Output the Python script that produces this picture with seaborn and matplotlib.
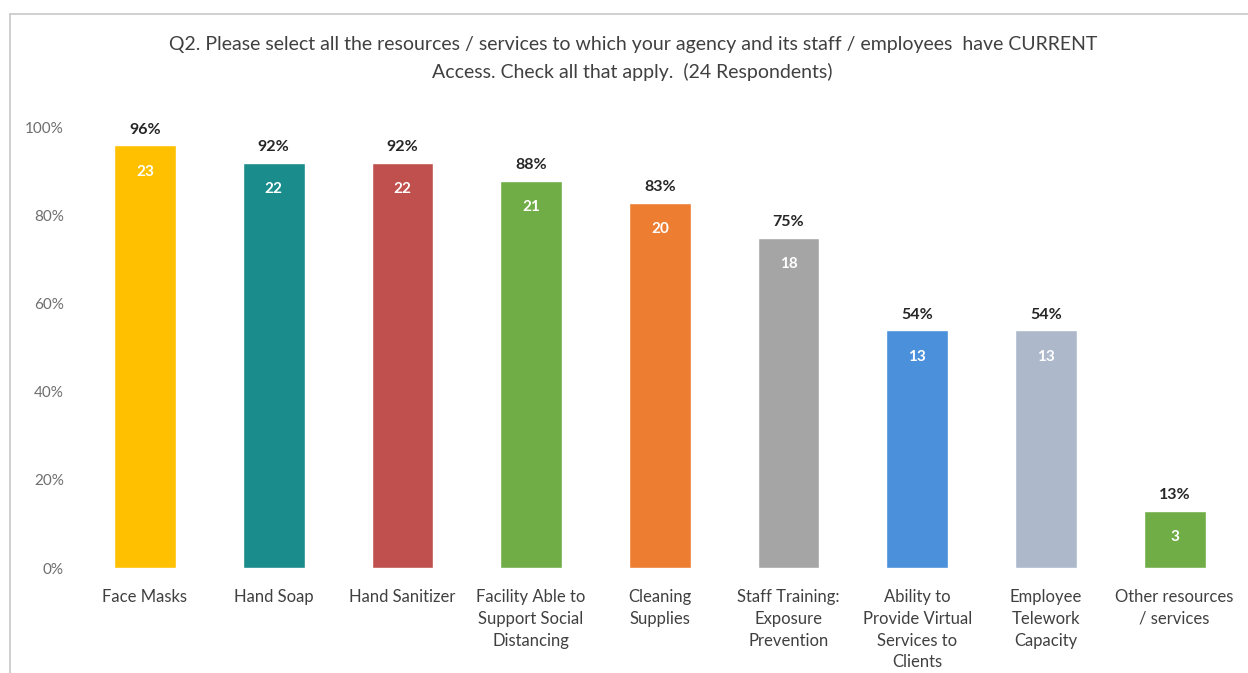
import matplotlib
matplotlib.use("Agg")
import matplotlib.pyplot as plt
import seaborn as sns
import pandas as pd
from matplotlib.lines import Line2D

categories = [
    "Face Masks", "Hand Soap", "Hand Sanitizer",
    "Facility Able to\nSupport Social\nDistancing",
    "Cleaning\nSupplies", "Staff Training:\nExposure\nPrevention",
    "Ability to\nProvide Virtual\nServices to\nClients",
    "Employee\nTelework\nCapacity", "Other resources\n/ services",
]
counts = [23, 22, 22, 21, 20, 18, 13, 13, 3]
percents = [96, 92, 92, 88, 83, 75, 54, 54, 13]
bar_colors = ["#FFC000", "#1A8C8C", "#C0504D", "#70AD47", "#ED7D31",
              "#A5A5A5", "#4A90DA", "#ADB9CA", "#70AD47"]
y_ticks = [0, 20, 40, 60, 80, 100]
title = ("Q2. Please select all the resources / services to which your agency and its staff / employees  have CURRENT\n"
         "Access. Check all that apply.  (24 Respondents)")

sns.set_theme(style="white")
plt.rcParams["font.family"] = ["Lato", "DejaVu Sans"]

df = pd.DataFrame({"category": categories, "percent": percents, "count": counts})

fig = plt.figure(figsize=(12.48, 6.73), dpi=100)
ax = fig.add_axes([0.0646, 0.156, 0.9282, 0.654])

sns.barplot(data=df, x="category", y="percent", hue="category",
            palette=bar_colors, legend=False, width=0.48, ax=ax,
            saturation=1)

ax.set_ylim(0, 100)
ax.set_xlim(-0.5, len(categories) - 0.5)
ax.set_yticks(y_ticks)
ax.set_yticklabels([f"{t}%" for t in y_ticks], color="#6E6E6E", fontsize=11)
ax.tick_params(axis="y", length=0, pad=12)
ax.tick_params(axis="x", length=0, pad=15, labelsize=12, labelcolor="#404040")
for lbl in ax.get_xticklabels():
    lbl.set_linespacing(1.45)
ax.set_xlabel("")
ax.set_ylabel("")
for s in ax.spines.values():
    s.set_visible(False)

for i, (p, c) in enumerate(zip(percents, counts)):
    ax.text(i, p + 2.0, f"{p}%", ha="center", va="bottom",
            fontsize=11.5, fontweight="bold", color="#262626")
    ax.text(i, p - 6.0, f"{c}", ha="center", va="center",
            fontsize=11, fontweight="bold", color="white")

fig.text(0.507, 0.947, title, ha="center", va="top", fontsize=14,
         color="#404040", linespacing=1.65)

# chart frame edges
fig.add_artist(Line2D([0.008, 1.0], [1 - 14 / 673, 1 - 14 / 673],
                      transform=fig.transFigure, color="#C8C8C8", lw=1.2))
fig.add_artist(Line2D([0.008, 0.008], [0.0, 1 - 14 / 673],
                      transform=fig.transFigure, color="#C8C8C8", lw=1.2))

fig.savefig("out.png", dpi=100)
